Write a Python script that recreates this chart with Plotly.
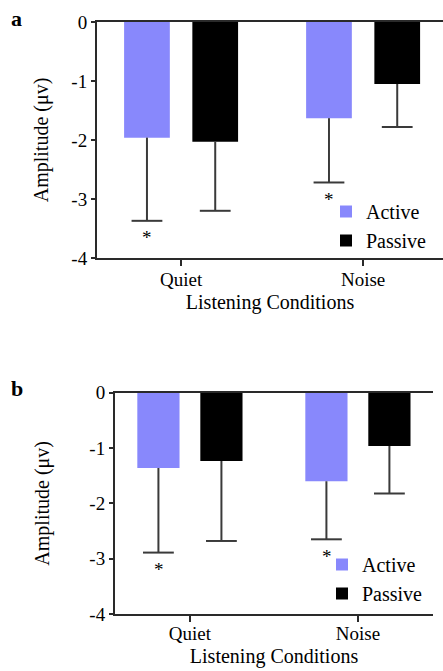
import plotly.graph_objects as go

conditions = ["Quiet", "Noise"]
series = ["Active", "Passive"]
# panel a
a_active_mean = [-1.96, -1.63]
a_active_err = [1.41, 1.09]
a_passive_mean = [-2.03, -1.05]
a_passive_err = [1.17, 0.73]
# panel b
b_active_mean = [-1.36, -1.60]
b_active_err = [1.53, 1.05]
b_passive_mean = [-1.235, -0.965]
b_passive_err = [1.445, 0.855]

y_tickvals = [0, -1, -2, -3, -4]
y_ticktext = ["0", "-1", "-2", "-3", "-4"]

W, H = 443, 671
FONT = "Times New Roman"
ACTIVE_COLOR = "#8888fc"
PASSIVE_COLOR = "#000000"
ERR_COLOR = "#3a3a3a"
AXIS_COLOR = "#2a2a2a"

fig = go.Figure()


def add_panel(means_a, errs_a, means_p, errs_p, xa, ya, legend):
    for name, m, e, c in [("Active", means_a, errs_a, ACTIVE_COLOR),
                          ("Passive", means_p, errs_p, PASSIVE_COLOR)]:
        fig.add_trace(go.Bar(
            x=conditions, y=m, name=name, marker=dict(color=c, line=dict(width=0)),
            error_y=dict(type="data", symmetric=False, array=[0] * len(m), arrayminus=e,
                         color=ERR_COLOR, thickness=2, width=0),
            xaxis=xa, yaxis=ya, legend=legend, offsetgroup=name,
        ))
    # caps at the lower end of the error bars
    for name, m, e in [("Active", means_a, errs_a), ("Passive", means_p, errs_p)]:
        fig.add_trace(go.Scatter(
            x=conditions, y=[mi - ei for mi, ei in zip(m, e)], mode="markers",
            marker=dict(symbol="line-ew", size=22, color=ERR_COLOR,
                        line=dict(width=2, color=ERR_COLOR)),
            xaxis=xa, yaxis=ya, offsetgroup=name, showlegend=False, hoverinfo="skip",
        ))


add_panel(a_active_mean, a_active_err, a_passive_mean, a_passive_err, "x", "y", "legend")
add_panel(b_active_mean, b_active_err, b_passive_mean, b_passive_err, "x2", "y2", "legend2")

axis_common = dict(showline=True, linecolor=AXIS_COLOR, linewidth=2, showgrid=False,
                   zeroline=False, ticks="outside", tickcolor=AXIS_COLOR, tickwidth=2,
                   automargin=False,
                   tickfont=dict(family=FONT, size=19, color="black"))

fig.update_layout(
    width=W, height=H, margin=dict(l=0, r=0, t=0, b=0),
    paper_bgcolor="white", plot_bgcolor="white",
    barmode="group", bargap=0.25, bargroupgap=0.33,
    scattermode="group", scattergap=0.25,
    font=dict(family=FONT, color="black"),
    xaxis=dict(domain=[97 / W, 1.0], range=[-0.462, 1.439], anchor="y", mirror=True,
               ticklen=6, ticklabelstandoff=-3,
               title=dict(text="Listening Conditions", font=dict(family=FONT, size=20), standoff=6),
               **axis_common),
    yaxis=dict(domain=[1 - 258 / H, 1 - 22 / H], range=[-4, 0], anchor="x",
               tickvals=y_tickvals, ticktext=y_ticktext, ticklen=4,
               title=dict(text="Amplitude (μv)", font=dict(family=FONT, size=20), standoff=17),
               **axis_common),
    xaxis2=dict(domain=[115 / W, 433 / W], range=[-0.446, 1.447], anchor="y2", mirror=True,
                ticklen=6, ticklabelstandoff=-5,
                title=dict(text="Listening Conditions", font=dict(family=FONT, size=20), standoff=6),
                **axis_common),
    yaxis2=dict(domain=[1 - 614 / H, 1 - 392.7 / H], range=[-4, 0], anchor="x2",
                tickvals=y_tickvals, ticktext=y_ticktext, ticklen=4,
                title=dict(text="Amplitude (μv)", font=dict(family=FONT, size=20), standoff=34),
                **axis_common),
    legend=dict(x=326 / W, y=1 - 192 / H, xanchor="left", yanchor="top",
                bgcolor="rgba(0,0,0,0)", font=dict(family=FONT, size=20),
                tracegroupgap=0, itemsizing="constant"),
    legend2=dict(x=322 / W, y=1 - 545 / H, xanchor="left", yanchor="top",
                 bgcolor="rgba(0,0,0,0)", font=dict(family=FONT, size=20),
                 tracegroupgap=0, itemsizing="constant"),
    showlegend=True,
)

# significance asterisks under the Active error bars
for xa, ya, means, errs, shift in [("x", "y", a_active_mean, a_active_err, -34.5),
                                   ("x2", "y2", b_active_mean, b_active_err, -31)]:
    for cond, m, e in zip(conditions, means, errs):
        fig.add_annotation(x=cond, y=m - e, xref=xa, yref=ya, text="*", showarrow=False,
                           xshift=shift, yshift=-17, font=dict(family=FONT, size=19, color="black"))

# panel letters
fig.add_annotation(x=9 / W, y=1 - 18 / H, xref="paper", yref="paper", text="<b>a</b>", showarrow=False,
                   xanchor="left", yanchor="middle", font=dict(family=FONT, size=22, color="black"))
fig.add_annotation(x=9 / W, y=1 - 388 / H, xref="paper", yref="paper", text="<b>b</b>", showarrow=False,
                   xanchor="left", yanchor="middle", font=dict(family=FONT, size=22, color="black"))

fig.write_html("out.html")
